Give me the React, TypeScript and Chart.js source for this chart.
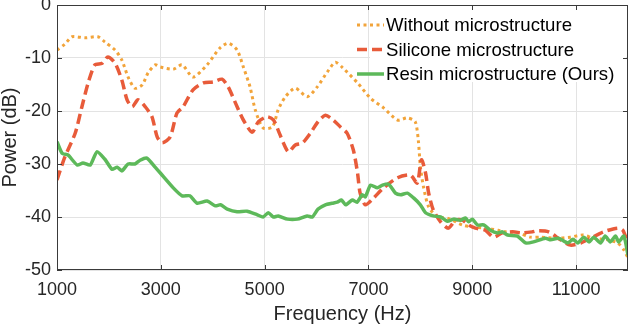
import React, { useEffect, useRef } from "react";
import { Chart, registerables } from "chart.js";

Chart.register(...registerables);

const xTickValues = [1000, 3000, 5000, 7000, 9000, 11000];
const yTickValues = [-50, -40, -30, -20, -10, 0];

const seriesNames = [
  "Without microstructure",
  "Silicone microstructure",
  "Resin microstructure (Ours)",
];

const freqWithout = [1000, 1150, 1290, 1540, 1790, 1925, 2120, 2250, 2370, 2500, 2640, 2755, 2890, 2990, 3240, 3410, 3620, 3890, 4140, 4300, 4470, 4590, 4720, 4820, 4970, 5150, 5260, 5400, 5590, 5820, 6010, 6210, 6360, 6500, 6790, 7040, 7290, 7560, 7750, 7900, 7960, 8000, 8060, 8160, 8330, 8520, 8810, 9000, 9250, 9500, 9640, 9890, 10120, 10320, 10640, 10890, 11130, 11340, 11610, 11800, 11920, 12000];
const powerWithout = [-8.5, -7.4, -6.0, -6.2, -6.0, -7.0, -8.5, -10.4, -13.6, -15.7, -15.1, -12.8, -11.3, -11.7, -12.1, -11.3, -13.6, -11.3, -8.1, -7.2, -8.5, -11.7, -15.5, -19.8, -23.2, -23.0, -19.8, -17.3, -15.7, -17.3, -15.5, -12.6, -10.8, -11.8, -14.7, -17.6, -19.4, -21.7, -21.3, -22.0, -25.5, -30.5, -34.3, -38.1, -40.0, -40.2, -41.5, -41.9, -42.1, -42.5, -42.8, -43.0, -43.8, -43.8, -44.0, -43.8, -43.4, -44.0, -44.3, -44.9, -46.2, -47.7];

const freqSilicone = [1000, 1150, 1350, 1480, 1600, 1730, 1870, 1980, 2120, 2250, 2350, 2450, 2560, 2700, 2830, 2930, 3030, 3180, 3310, 3430, 3620, 3820, 4010, 4180, 4300, 4470, 4590, 4760, 4880, 5050, 5170, 5260, 5360, 5460, 5590, 5730, 5880, 6030, 6170, 6320, 6460, 6590, 6710, 6790, 6840, 6940, 7100, 7290, 7560, 7810, 7940, 8020, 8100, 8160, 8250, 8390, 8540, 8680, 8810, 8930, 9060, 9250, 9410, 9580, 9780, 9970, 10160, 10260, 10470, 10700, 10890, 11090, 11280, 11530, 11800, 11900, 12000];
const powerSilicone = [-33.0, -28.7, -24.2, -19.2, -14.7, -11.3, -11.0, -9.8, -11.0, -14.2, -17.9, -19.2, -17.9, -19.2, -21.1, -24.9, -26.0, -24.9, -20.4, -19.2, -16.0, -14.7, -14.5, -14.0, -15.5, -19.2, -21.7, -24.0, -22.0, -21.1, -21.7, -23.6, -26.0, -27.7, -26.4, -26.0, -24.2, -22.0, -20.8, -21.7, -23.0, -24.2, -27.4, -31.7, -35.5, -37.7, -36.4, -34.5, -32.6, -32.1, -33.6, -29.2, -31.7, -35.5, -38.7, -40.9, -42.1, -40.6, -40.6, -41.5, -42.1, -42.5, -43.8, -43.0, -42.8, -43.0, -42.8, -42.6, -42.8, -44.3, -45.3, -44.9, -44.0, -42.8, -42.1, -42.5, -45.0];

const freqResin = [1000, 1100, 1210, 1390, 1500, 1640, 1770, 1930, 2060, 2160, 2250, 2370, 2500, 2600, 2730, 2890, 2990, 3240, 3410, 3560, 3700, 3890, 4050, 4150, 4280, 4470, 4660, 4860, 4970, 5070, 5170, 5260, 5440, 5630, 5820, 5920, 6030, 6170, 6300, 6400, 6480, 6560, 6690, 6780, 6880, 6940, 7040, 7170, 7270, 7390, 7520, 7620, 7750, 7870, 8000, 8100, 8250, 8390, 8520, 8640, 8770, 8870, 8930, 9000, 9100, 9220, 9350, 9490, 9580, 9680, 9870, 10030, 10180, 10410, 10510, 10660, 10840, 10940, 11030, 11150, 11250, 11340, 11470, 11560, 11660, 11760, 11820, 11920, 12000];
const powerResin = [-25.8, -28.0, -28.3, -30.2, -29.8, -30.2, -27.7, -29.2, -31.0, -30.6, -31.3, -30.0, -30.0, -29.3, -28.9, -30.6, -31.7, -34.5, -36.0, -36.0, -37.4, -37.0, -37.9, -37.7, -38.5, -39.0, -38.9, -39.6, -40.0, -39.2, -40.0, -39.8, -40.4, -40.4, -39.8, -40.0, -38.5, -37.7, -37.4, -37.2, -36.8, -37.7, -36.8, -37.2, -35.8, -36.2, -34.0, -34.5, -34.0, -33.8, -35.5, -35.8, -35.5, -36.4, -37.7, -39.2, -39.8, -40.0, -40.8, -40.4, -40.6, -40.2, -40.9, -40.4, -41.5, -41.5, -42.5, -43.0, -42.8, -43.4, -43.6, -44.9, -44.7, -44.0, -44.3, -44.0, -44.9, -44.2, -44.9, -43.8, -44.7, -43.8, -44.9, -43.6, -44.7, -43.6, -44.7, -43.6, -47.2];

const colorWithout = "#F2A43A";
const colorSilicone = "#E85B3A";
const colorResin = "#5DB95A";

const FONT = "'Liberation Sans', Arial, Helvetica, sans-serif";

const toPoints = (xs: number[], ys: number[]) => xs.map((x, i) => ({ x, y: ys[i] }));

const boxPlugin = {
  id: "boxPlugin",
  beforeDatasetsDraw(chart: any) {
    const { ctx } = chart;
    ctx.save();
    ctx.fillStyle = "#ffffff";
    ctx.fillRect(370, 7, 256, 75);
    ctx.restore();
  },
  afterDraw(chart: any) {
    const { ctx, chartArea: a, scales } = chart;
    ctx.save();
    ctx.strokeStyle = "#3a3a3a";
    ctx.lineWidth = 1;
    ctx.setLineDash([]);
    ctx.strokeRect(a.left + 0.5, a.top + 0.5, a.right - a.left - 1, a.bottom - a.top - 1);
    const tl = 5;
    ctx.beginPath();
    xTickValues.forEach((v) => {
      const px = Math.round(scales.x.getPixelForValue(v)) + 0.5;
      ctx.moveTo(px, a.bottom);
      ctx.lineTo(px, a.bottom - tl);
      ctx.moveTo(px, a.top);
      ctx.lineTo(px, a.top + tl);
    });
    yTickValues.forEach((v) => {
      const py = Math.round(scales.y.getPixelForValue(v)) + 0.5;
      ctx.moveTo(a.left, py);
      ctx.lineTo(a.left + tl, py);
      ctx.moveTo(a.right, py);
      ctx.lineTo(a.right - tl, py);
    });
    ctx.stroke();

    const items = [
      { name: seriesNames[0], color: colorWithout, dash: [3, 3.5], width: 3 },
      { name: seriesNames[1], color: colorSilicone, dash: [10, 5], width: 3.5 },
      { name: seriesNames[2], color: colorResin, dash: [], width: 3.5 },
    ];
    const rowsY = [25, 49.5, 74];
    items.forEach((it, i) => {
      const y = rowsY[i];
      ctx.beginPath();
      ctx.strokeStyle = it.color;
      ctx.lineWidth = it.width;
      ctx.setLineDash(it.dash);
      ctx.moveTo(357, y);
      ctx.lineTo(384, y);
      ctx.stroke();
      ctx.setLineDash([]);
      ctx.fillStyle = "#000000";
      ctx.font = `18.6px ${FONT}`;
      ctx.textBaseline = "middle";
      ctx.textAlign = "left";
      ctx.fillText(it.name, 386, y + 1);
    });
    ctx.restore();
  },
};

export default function App() {
  const ref = useRef<HTMLCanvasElement | null>(null);
  useEffect(() => {
    if (!ref.current) return;
    const chart = new Chart(ref.current, {
      type: "line",
      data: {
        datasets: [
          {
            label: seriesNames[0],
            data: toPoints(freqWithout, powerWithout),
            borderColor: colorWithout,
            borderWidth: 3,
            borderDash: [3, 3.5],
            pointRadius: 0,
            tension: 0.25,
            fill: false,
            order: 3,
          },
          {
            label: seriesNames[1],
            data: toPoints(freqSilicone, powerSilicone),
            borderColor: colorSilicone,
            borderWidth: 3.5,
            borderDash: [10, 5],
            pointRadius: 0,
            tension: 0.25,
            fill: false,
            order: 2,
          },
          {
            label: seriesNames[2],
            data: toPoints(freqResin, powerResin),
            borderColor: colorResin,
            borderWidth: 3.5,
            pointRadius: 0,
            tension: 0.2,
            fill: false,
            order: 1,
          },
        ],
      },
      options: {
        animation: false,
        responsive: false,
        devicePixelRatio: 1,
        layout: { padding: { top: 5, right: 2, left: 0, bottom: 0 } },
        plugins: {
          legend: { display: false },
          tooltip: { enabled: false },
        },
        scales: {
          x: {
            type: "linear",
            min: 1000,
            max: 12000,
            afterBuildTicks: (scale: any) => {
              scale.ticks = xTickValues.map((v) => ({ value: v }));
            },
            afterFit: (scale: any) => {
              scale.height = 58;
              scale.paddingLeft = 0;
              scale.paddingRight = 0;
            },
            grid: { color: "#e3e3e3", drawTicks: false, lineWidth: 1 },
            border: { display: false },
            ticks: {
              padding: 9,
              color: "#262626",
              font: { family: FONT, size: 18 },
              maxRotation: 0,
              autoSkip: false,
              callback: (v: any) => String(v),
            },
            title: {
              display: true,
              text: "Frequency (Hz)",
              color: "#262626",
              font: { family: FONT, size: 20, lineHeight: 1.2 },
              padding: { top: 0, bottom: 2 },
            },
          },
          y: {
            type: "linear",
            min: -50,
            max: 0,
            afterBuildTicks: (scale: any) => {
              scale.ticks = yTickValues.map((v) => ({ value: v }));
            },
            afterFit: (scale: any) => {
              scale.width = 57;
              scale.paddingTop = 0;
              scale.paddingBottom = 0;
            },
            grid: { color: "#e3e3e3", drawTicks: false, lineWidth: 1 },
            border: { display: false },
            ticks: {
              padding: 6,
              color: "#262626",
              font: { family: FONT, size: 18 },
              autoSkip: false,
              callback: (v: any) => String(v),
            },
            title: {
              display: true,
              text: "Power (dB)",
              color: "#262626",
              font: { family: FONT, size: 20, lineHeight: 1 },
              padding: { top: 0, bottom: 0 },
            },
          },
        },
      },
      plugins: [boxPlugin],
    });
    return () => chart.destroy();
  }, []);
  return (
    <div style={{ position: "fixed", left: 0, top: 0, width: 630, height: 328, background: "#fff" }}>
      <canvas ref={ref} width={630} height={328} style={{ width: 630, height: 328, display: "block" }} />
    </div>
  );
}
